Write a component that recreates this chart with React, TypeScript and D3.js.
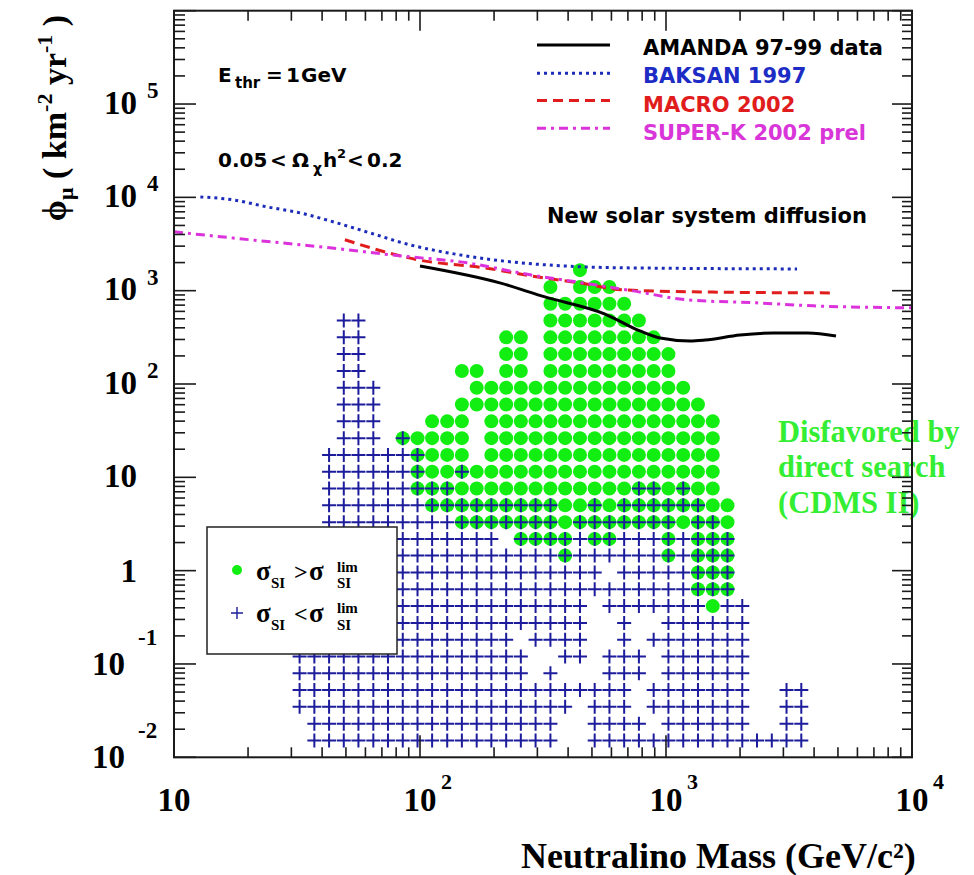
import React from "react";
import * as d3 from "d3";

const W = 974;
const H = 875;

// Neutralino mass bin centres (GeV/c^2), one per scan column
const MASS_GEV = [
  32.4, 37.2, 42.7, 49.0, 56.2, 64.6, 74.1, 85.1, 97.7, 112, 129, 148, 170, 195, 224, 257, 295, 339,
  389, 447, 513, 589, 676, 776, 891, 1023, 1175, 1349, 1549, 1778, 2042, 2344, 2692, 3090, 3548,
];

// Muon flux bin centres (km^-2 yr^-1), one per scan row, top row first
const FLUX_ROWS = [
  1660, 1096, 724, 479, 316, 209, 138, 91.2, 60.3, 39.8, 26.3, 17.4, 11.5, 7.59, 5.01, 3.31, 2.19,
  1.45, 0.955, 0.631, 0.417, 0.275, 0.182, 0.12, 0.0794, 0.0525, 0.0347, 0.0229, 0.0151,
];

// Model scan, one string per flux row, one character per mass column:
// o = sigma_SI above the CDMS II limit, + = below it, * = both, . = no model
const SCAN_ROWS = [
  "..... ..... ..... ....o ..... ..... .....",
  "..... ..... ..... ..o.o oo... ..... .....",
  "..... ..... ..... ..ooo ooo.. ..... .....",
  "...++ ..... ..... ..ooo oooo. ..... .....",
  "...++ ..... ....o o.ooo ooooo ..... .....",
  "...++ ..... ....o o.ooo ooooo o.... .....",
  "...++ ..... .oo.o o.ooo ooooo o.... .....",
  "...++ +.... ..ooo ooooo ooooo oo... .....",
  "...++ +.... .oooo ooooo ooooo ooo.. .....",
  "...++ +...o oo.oo ooooo ooooo oooo. .....",
  "...++ +.*oo oo.oo ooooo ooooo oooo. .....",
  "..+++ +++*o oo.oo ooooo ooooo oooo. .....",
  "..+++ +++*o o*ooo ooooo ooooo oooo. .....",
  "..+++ +++** *oooo ooooo ooo** o*oo. .....",
  "..+++ ++++* ***** ***oo *o*** ***oo .....",
  "..+++ +++++ +**** ***o* ***** *o**o .....",
  "..+++ +++++ ++++. ****+ **+++ *+*** .....",
  "..+++ +++++ +++++ +++*+ +++++ *+*** .....",
  "+++++ +++++ +++++ +++++ +.+++ ++*** .....",
  "+++++ +++++ +++++ +++++ +++++ ++*** .....",
  "+++++ +++++ +++++ +++++ .++++ +++o+ +....",
  "+++++ +++++ +++++ +++++ ..+.. +++++ +....",
  "+++++ +++++ +++++ .++++ ..+.+ +++++ +....",
  "+++++ +++++ +++++ +..++ .+++. +++++ +....",
  "+++++ +++++ +++++ +.+.. .+++. +++++ +....",
  "+++++ +++++ +++++ +++++ +++.+ +++++ +..++",
  "+++++ +++++ +++++ ++++. +++.+ +++++ +..++",
  ".++++ +++++ +++++ +++.. ++++. +++++ +..++",
  ".++++ +++++ +++++ +++.. +++++ +++++ +++++",
];

// Experimental upper limits on the muon flux from the Sun
const AMANDA_MASS = [100, 211, 322, 565, 784, 946, 1253, 1443, 2000, 2722, 3776, 4910];
const AMANDA_FLUX = [1837, 1211, 857, 562, 370, 311, 289, 296, 335, 352, 352, 327];

const BAKSAN_MASS = [12.8, 17.4, 23.9, 32.5, 43, 62.6, 91, 145, 232, 371, 650, 3410];
const BAKSAN_FLUX = [10100, 9400, 7900, 6820, 5600, 4160, 3100, 2420, 2040, 1850, 1760, 1710];

const MACRO_MASS = [49.5, 98, 184, 302, 447, 668, 1375, 4780];
const MACRO_FLUX = [3510, 2140, 1750, 1400, 1210, 1020, 970, 946];

const SUPERK_MASS = [10, 20.4, 43, 83, 155, 280, 491, 735, 1217, 2340, 3960, 10000];
const SUPERK_FLUX = [4270, 3510, 2880, 2360, 1990, 1480, 1180, 995, 798, 741, 688, 655];

const LIMITS = [
  { name: "AMANDA 97-99 data", mass: AMANDA_MASS, flux: AMANDA_FLUX, color: "#000000", dash: "none", legendColor: "#000000" },
  { name: "BAKSAN 1997", mass: BAKSAN_MASS, flux: BAKSAN_FLUX, color: "#1c2cb8", dash: "3,4", legendColor: "#1c2cc4" },
  { name: "MACRO 2002", mass: MACRO_MASS, flux: MACRO_FLUX, color: "#e01c1c", dash: "10,6", legendColor: "#e01c1c" },
  { name: "SUPER-K 2002 prel", mass: SUPERK_MASS, flux: SUPERK_FLUX, color: "#dc32dc", dash: "9,5,3,5", legendColor: "#d936d9" },
];

const X_DECADES = [1, 2, 3, 4];
const Y_DECADES = [-2, -1, 0, 1, 2, 3, 4, 5];

const SANS = "'DejaVu Sans', Verdana, sans-serif";
const SERIF = "'Liberation Serif', 'Times New Roman', serif";
const DOT_GREEN = "#12ee12";
const CROSS_BLUE = "#1c1c9c";

export default function App() {
  const left = 174;
  const right = 912;
  const top = 10.7;
  const bottom = 757.3;
  const x = d3.scaleLog().domain([10, 1e4]).range([left, right]);
  const y = d3.scaleLog().domain([1e-2, 1e6]).range([bottom, top]);

  const cells: { mass: number; flux: number; above: boolean; below: boolean }[] = [];
  SCAN_ROWS.forEach((row, r) => {
    const s = row.replace(/ /g, "");
    for (let c = 0; c < s.length; c++) {
      const ch = s[c];
      if (ch === ".") continue;
      cells.push({
        mass: MASS_GEV[c],
        flux: FLUX_ROWS[r],
        above: ch === "o" || ch === "*",
        below: ch === "+" || ch === "*",
      });
    }
  });

  const line = d3
    .line<[number, number]>()
    .x((d) => x(d[0]))
    .y((d) => y(d[1]))
    .curve(d3.curveMonotoneX);

  // log-axis tick positions: majors at decades, minors at 2..9
  const xMinor: number[] = [];
  for (let e = 1; e < 4; e++) for (let k = 2; k <= 9; k++) xMinor.push(k * Math.pow(10, e));
  const yMinor: number[] = [];
  for (let e = -2; e < 6; e++) for (let k = 2; k <= 9; k++) yMinor.push(k * Math.pow(10, e));
  const xMajor = [10, 100, 1000, 10000];
  const yMajor = [1e-2, 1e-1, 1, 10, 100, 1e3, 1e4, 1e5, 1e6];

  const crossPath = (cx: number, cy: number, h: number) =>
    `M${cx - h},${cy}H${cx + h}M${cx},${cy - h}V${cy + h}`;

  return (
    <svg
      width={W}
      height={H}
      viewBox={`0 0 ${W} ${H}`}
      style={{ position: "absolute", left: 0, top: 0, background: "#fff" }}
    >
      <rect x={0} y={0} width={W} height={H} fill="#fff" />

      {/* scan: green dots first, blue crosses on top */}
      <g>
        {cells
          .filter((d) => d.above)
          .map((d, i) => (
            <circle key={"o" + i} cx={x(d.mass)} cy={y(d.flux)} r={7} fill={DOT_GREEN} />
          ))}
      </g>
      <path
        d={cells
          .filter((d) => d.below)
          .map((d) => crossPath(x(d.mass), y(d.flux), 7))
          .join("")}
        stroke={CROSS_BLUE}
        strokeWidth={2}
        fill="none"
      />

      {/* limit curves */}
      {LIMITS.map((s) => (
        <path
          key={s.name}
          d={line(s.mass.map((m, i) => [m, s.flux[i]] as [number, number])) || ""}
          fill="none"
          stroke={s.color}
          strokeWidth={3}
          strokeDasharray={s.dash}
        />
      ))}

      {/* curve legend */}
      {LIMITS.map((s, i) => {
        const ly = [45, 73.3, 100.5, 128.3][i];
        const ty = [55, 83, 111.5, 140][i];
        return (
          <g key={"lg" + s.name}>
            <line x1={537} x2={610} y1={ly} y2={ly} stroke={s.color} strokeWidth={3} strokeDasharray={s.dash} />
            <text x={643} y={ty} fontFamily={SANS} fontWeight="bold" fontSize={21} fill={s.legendColor}>
              {s.name}
            </text>
          </g>
        );
      })}

      <text x={547} y={223} fontFamily={SANS} fontWeight="bold" fontSize={21} fill="#000">
        New solar system diffusion
      </text>

      {/* E threshold and relic density annotations */}
      <g fontFamily={SANS} fontWeight="bold" fill="#000">
        <text x={218} y={82} fontSize={20}>E</text>
        <text x={235} y={88} fontSize={15}>thr</text>
        <text x={266} y={82} fontSize={20}>=</text>
        <text x={286} y={82} fontSize={20}>1</text>
        <text x={301} y={82} fontSize={20}>GeV</text>

        <text x={218} y={167} fontSize={20}>0.05</text>
        <text x={270} y={167} fontSize={20}>&lt;</text>
        <text x={292} y={167} fontSize={20}>Ω</text>
        <text x={313} y={173} fontSize={14}>χ</text>
        <text x={323} y={167} fontSize={20}>h</text>
        <text x={337} y={158} fontSize={13}>2</text>
        <text x={347} y={167} fontSize={20}>&lt;</text>
        <text x={367} y={167} fontSize={20}>0.2</text>
      </g>

      {/* direct-search annotation */}
      <g fontFamily={SERIF} fontWeight="bold" fontSize={30.5} fill="#33ee33">
        <text x={778} y={442}>Disfavored by</text>
        <text x={778} y={477}>direct search</text>
        <text x={778} y={513}>(CDMS II)</text>
      </g>

      {/* sigma legend */}
      <g>
        <rect x={207} y={527} width={190} height={127} fill="#fff" stroke="#222" strokeWidth={1.5} />
        <circle cx={237} cy={570} r={5} fill={DOT_GREEN} />
        <path d={crossPath(237, 613, 6)} stroke={CROSS_BLUE} strokeWidth={1.4} />
        <g fontFamily={SERIF} fontWeight="bold" fill="#000">
          <text x={256} y={580} fontSize={27}>σ</text>
          <text x={271} y={588} fontSize={15}>SI</text>
          <text x={294} y={580} fontSize={24}>&gt;</text>
          <text x={309} y={580} fontSize={27}>σ</text>
          <text x={337} y={572} fontSize={15}>lim</text>
          <text x={337} y={588} fontSize={15}>SI</text>

          <text x={256} y={622} fontSize={27}>σ</text>
          <text x={271} y={630} fontSize={15}>SI</text>
          <text x={294} y={622} fontSize={24}>&lt;</text>
          <text x={309} y={622} fontSize={27}>σ</text>
          <text x={337} y={613} fontSize={15}>lim</text>
          <text x={337} y={630} fontSize={15}>SI</text>
        </g>
      </g>

      {/* axes frame and ticks */}
      <g stroke="#1a1a1a" strokeWidth={1.6}>
        {xMajor.map((v) => (
          <g key={"xM" + v}>
            <line x1={x(v)} x2={x(v)} y1={bottom} y2={bottom - 22} />
            <line x1={x(v)} x2={x(v)} y1={top} y2={top + 20} />
          </g>
        ))}
        {xMinor.map((v) => (
          <g key={"xm" + v}>
            <line x1={x(v)} x2={x(v)} y1={bottom} y2={bottom - 10} />
            <line x1={x(v)} x2={x(v)} y1={top} y2={top + 10} />
          </g>
        ))}
        {yMajor.map((v) => (
          <g key={"yM" + v}>
            <line x1={left} x2={left + 22} y1={y(v)} y2={y(v)} />
            <line x1={right} x2={right - 20} y1={y(v)} y2={y(v)} />
          </g>
        ))}
        {yMinor.map((v) => (
          <g key={"ym" + v}>
            <line x1={left} x2={left + 11} y1={y(v)} y2={y(v)} />
            <line x1={right} x2={right - 10} y1={y(v)} y2={y(v)} />
          </g>
        ))}
      </g>
      <rect x={left} y={top} width={right - left} height={bottom - top} fill="none" stroke="#1a1a1a" strokeWidth={2} />

      {/* y tick labels */}
      <g fontFamily={SERIF} fontWeight="bold" fill="#000">
        {Y_DECADES.map((e) => {
          const ty = y(Math.pow(10, e));
          if (e === 0)
            return (
              <text key={"yl" + e} x={137} y={ty + 11} fontSize={33} textAnchor="end">1</text>
            );
          if (e === 1)
            return (
              <text key={"yl" + e} x={137} y={ty + 10} fontSize={33} textAnchor="end">10</text>
            );
          if (e > 0)
            return (
              <g key={"yl" + e}>
                <text x={137} y={ty + 9.5} fontSize={33} textAnchor="end">10</text>
                <text x={147} y={ty - 6} fontSize={23}>{String(e)}</text>
              </g>
            );
          return (
            <g key={"yl" + e}>
              <text x={125} y={ty + 11} fontSize={33} textAnchor="end">10</text>
              <text x={138} y={ty - 19} fontSize={23}>{String(e)}</text>
            </g>
          );
        })}
      </g>

      {/* x tick labels */}
      <g fontFamily={SERIF} fontWeight="bold" fill="#000">
        {X_DECADES.map((e) => {
          const tx = x(Math.pow(10, e));
          return (
            <g key={"xl" + e}>
              <text x={tx} y={811} fontSize={33} textAnchor="middle">10</text>
              {e > 1 && (
                <text x={tx + 21} y={789} fontSize={22}>{String(e)}</text>
              )}
            </g>
          );
        })}
      </g>

      {/* axis titles */}
      <text
        transform="translate(66,118) rotate(-90)"
        textAnchor="middle"
        fontFamily={SERIF}
        fontWeight="bold"
        fontSize={34}
        fill="#000"
      >
        ϕ
        <tspan fontSize={22} dy={7}>μ</tspan>
        <tspan dy={-7}>{" ( km"}</tspan>
        <tspan fontSize={22} dy={-14}>-2</tspan>
        <tspan dy={14}>{" yr"}</tspan>
        <tspan fontSize={22} dy={-14}>-1</tspan>
        <tspan dy={14}>{" )"}</tspan>
      </text>
      <text x={521} y={868} fontFamily={SERIF} fontWeight="bold" fontSize={36} fill="#000">
        Neutralino Mass (GeV/c²)
      </text>
    </svg>
  );
}
